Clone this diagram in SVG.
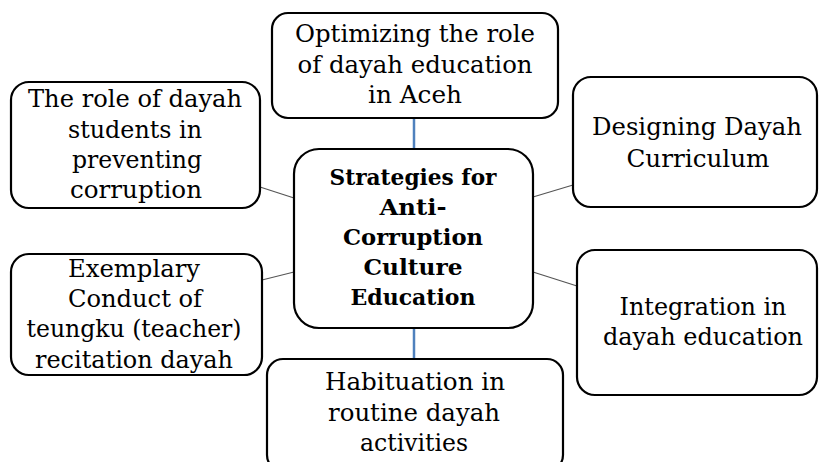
<svg xmlns="http://www.w3.org/2000/svg" width="819" height="462" viewBox="0 0 819 462">
<style>
.box{fill:#fff;stroke:#000;stroke-width:2.2}
.t{font-family:"DejaVu Serif","Liberation Serif",serif;font-size:24px;fill:#000;text-anchor:middle}
.b{font-family:"DejaVu Serif","Liberation Serif",serif;font-size:23px;font-weight:bold;fill:#000;text-anchor:middle}
.v{stroke:#4f81bd;stroke-width:2.5;fill:none}
.s{stroke:#555;stroke-width:1.2;fill:none}
</style>
<rect width="819" height="462" fill="#fff"/>
<g id="connectors">
<line class="v" x1="414" y1="118" x2="414" y2="149"/>
<line class="v" x1="414" y1="328" x2="414" y2="359"/>
<line class="s" x1="260" y1="187" x2="294" y2="198"/>
<line class="s" x1="533" y1="197" x2="573" y2="185"/>
<line class="s" x1="262" y1="280" x2="294" y2="272"/>
<line class="s" x1="533" y1="272" x2="577" y2="286"/>
</g>
<g id="center">
<rect class="box" x="294" y="149" width="239" height="179" rx="25"/>
<text class="b" x="413" y="185" textLength="167" lengthAdjust="spacingAndGlyphs">Strategies for</text>
<text class="b" x="413" y="215" textLength="67" lengthAdjust="spacingAndGlyphs">Anti-</text>
<text class="b" x="413" y="245" textLength="140" lengthAdjust="spacingAndGlyphs">Corruption</text>
<text class="b" x="413" y="275" textLength="99" lengthAdjust="spacingAndGlyphs">Culture</text>
<text class="b" x="413" y="305" textLength="125" lengthAdjust="spacingAndGlyphs">Education</text>
</g>
<g id="top">
<rect class="box" x="272" y="13" width="286" height="105" rx="16"/>
<text class="t" x="415" y="42" textLength="240" lengthAdjust="spacingAndGlyphs">Optimizing the role</text>
<text class="t" x="415" y="73" textLength="235" lengthAdjust="spacingAndGlyphs">of dayah education</text>
<text class="t" x="415" y="103" textLength="94" lengthAdjust="spacingAndGlyphs">in Aceh</text>
</g>
<g id="left-top">
<rect class="box" x="11" y="82" width="249" height="126" rx="18"/>
<text class="t" x="135" y="107" textLength="214" lengthAdjust="spacingAndGlyphs">The role of dayah</text>
<text class="t" x="135" y="138" textLength="134" lengthAdjust="spacingAndGlyphs">students in</text>
<text class="t" x="137" y="168" textLength="130" lengthAdjust="spacingAndGlyphs">preventing</text>
<text class="t" x="136" y="198" textLength="132" lengthAdjust="spacingAndGlyphs">corruption</text>
</g>
<g id="right-top">
<rect class="box" x="573" y="77" width="244" height="130" rx="18"/>
<text class="t" x="697" y="135" textLength="210" lengthAdjust="spacingAndGlyphs">Designing Dayah</text>
<text class="t" x="698" y="167" textLength="143" lengthAdjust="spacingAndGlyphs">Curriculum</text>
</g>
<g id="left-bottom">
<rect class="box" x="11" y="254" width="251" height="121" rx="18"/>
<text class="t" x="134" y="277" textLength="132" lengthAdjust="spacingAndGlyphs">Exemplary</text>
<text class="t" x="135" y="307" textLength="134" lengthAdjust="spacingAndGlyphs">Conduct of</text>
<text class="t" x="134" y="337" textLength="215" lengthAdjust="spacingAndGlyphs">teungku (teacher)</text>
<text class="t" x="134" y="368" textLength="198" lengthAdjust="spacingAndGlyphs">recitation dayah</text>
</g>
<g id="right-bottom">
<rect class="box" x="577" y="250" width="240" height="145" rx="18"/>
<text class="t" x="703" y="315" textLength="167" lengthAdjust="spacingAndGlyphs">Integration in</text>
<text class="t" x="703" y="345" textLength="200" lengthAdjust="spacingAndGlyphs">dayah education</text>
</g>
<g id="bottom">
<rect class="box" x="267" y="359" width="296" height="112" rx="16"/>
<text class="t" x="415" y="390" textLength="180" lengthAdjust="spacingAndGlyphs">Habituation in</text>
<text class="t" x="414" y="421" textLength="172" lengthAdjust="spacingAndGlyphs">routine dayah</text>
<text class="t" x="414" y="451" textLength="108" lengthAdjust="spacingAndGlyphs">activities</text>
</g>
</svg>
